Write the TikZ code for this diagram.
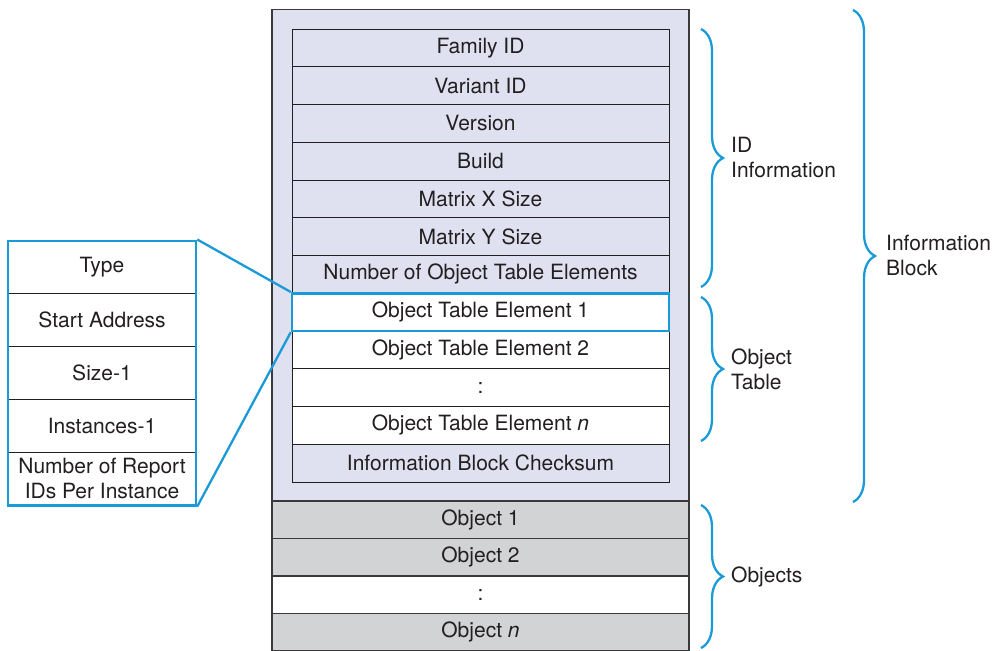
\documentclass[tikz,border=0pt]{standalone}
\usepackage{fontspec}
\setmainfont{TeX Gyre Heros}
\usetikzlibrary{decorations.pathreplacing}
\definecolor{lav}{HTML}{DFE0F0}
\definecolor{objgray}{HTML}{D2D3D5}
\definecolor{bblue}{HTML}{1A9AD7}
\definecolor{txt}{HTML}{231F20}
\definecolor{frame}{HTML}{3A3A3C}
\begin{document}
\begin{tikzpicture}[x=1pt,y=-1pt,
  font=\fontsize{21}{25}\selectfont, text=txt,
  row/.style={draw=txt, line width=0.9pt, minimum width=377pt, minimum height=37.75pt, inner sep=0pt, anchor=center},
  idrow/.style={row, fill=lav},
  otrow/.style={row, fill=white},
  objrow/.style={draw=frame, line width=1.1pt, fill=objgray, minimum width=417pt, minimum height=37.5pt, inner sep=0pt},
  detrow/.style={draw=txt, line width=0.9pt, fill=white, minimum width=188pt, minimum height=52.9pt, inner sep=0pt, align=center},
  bluebox/.style={draw=bblue, line width=2.5pt},
  bluebrace/.style={draw=bblue, line width=2.3pt, decorate, decoration={brace, amplitude=22pt, aspect=0.5}},
  lbl/.style={anchor=west, inner sep=0pt, align=left}
]
\useasboundingbox (0,0) rectangle (992,650);

% Information block
\node[draw=frame, fill=lav, line width=1.1pt, minimum width=417pt, minimum height=491.5pt, inner sep=0pt] (infoblock) at (480.5,255.25) {};

\node[idrow] (fam) at (480.5,47.875) {Family ID};
\node[idrow] (var) at (480.5,85.625) {Variant ID};
\node[idrow] (ver) at (480.5,123.375) {Version};
\node[idrow] (bld) at (480.5,161.125) {Build};
\node[idrow] (mx) at (480.5,198.875) {Matrix X Size};
\node[idrow] (my) at (480.5,236.625) {Matrix Y Size};
\node[idrow] (num) at (480.5,274.375) {Number of Object Table Elements};
\node[otrow] (ote1) at (480.5,312.125) {Object Table Element 1};
\node[otrow] (ote2) at (480.5,349.875) {Object Table Element 2};
\node[otrow] (otedots) at (480.5,387.625) {:};
\node[otrow] (oten) at (480.5,425.375) {Object Table Element \textit{n}};
\node[idrow] (chk) at (480.5,463.125) {Information Block Checksum};

% Objects
\node[objrow] (obj1) at (480.5,519.75) {Object 1};
\node[objrow] (obj2) at (480.5,557.25) {Object 2};
\node[objrow, fill=white] (objdots) at (480.5,594.75) {:};
\node[objrow] (objn) at (480.5,632.25) {Object \textit{n}};

% Detail table
\node[detrow] (dtype) at (102,267.15) {Type};
\node[detrow] (dstart) at (102,320.05) {Start Address};
\node[detrow] (dsize) at (102,372.95) {Size-1};
\node[detrow] (dinst) at (102,425.85) {Instances-1};
\node[detrow] (drep) at (102,478.75) {Number of Report\\IDs Per Instance};
\node[bluebox, minimum width=188pt, minimum height=264.5pt, inner sep=0pt] (detail) at (102,373) {};

% Highlight and connectors
\node[bluebox, minimum width=377pt, minimum height=37.75pt, inner sep=0pt] (hl) at (480.5,312.125) {};
\draw[draw=bblue, line width=2.3pt] (detail.north east) -- (hl.north west);
\draw[draw=bblue, line width=2.3pt] (detail.south east) -- (hl.south west);

% Braces
\coordinate (idt) at (701,29);
\coordinate (idb) at (701,287);
\coordinate (ott) at (701,297);
\coordinate (otb) at (701,441);
\coordinate (obt) at (701,505);
\coordinate (obb) at (701,648);
\coordinate (ibt) at (853,10);
\coordinate (ibb) at (853,502);
\draw[bluebrace] (idt) -- (idb);
\draw[bluebrace] (ott) -- (otb);
\draw[bluebrace] (obt) -- (obb);
\draw[bluebrace] (ibt) -- (ibb);

\node[lbl] (lid) at (731,158) {ID\\Information};
\node[lbl] (lot) at (731,369) {Object\\Table};
\node[lbl] (lobj) at (731,577) {Objects};
\node[lbl] (lib) at (886,255) {Information\\Block};
\end{tikzpicture}
\end{document}
